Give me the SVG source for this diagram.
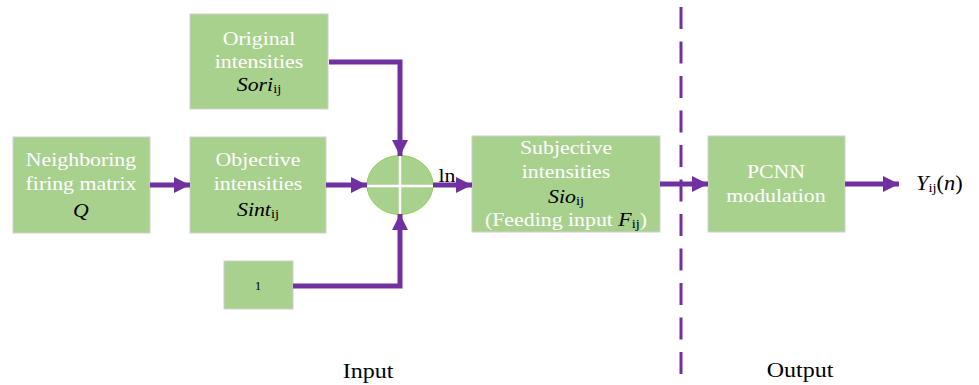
<svg xmlns="http://www.w3.org/2000/svg" width="979" height="385" viewBox="0 0 979 385">
<style>
.box{fill:#A9D18E;stroke:#D0D0D0;stroke-width:1}
text{font-family:"Liberation Serif","Times New Roman","DejaVu Serif",serif}
.t{font-size:19.5px;fill:#FFFFFF;text-anchor:middle}
.k{font-size:19.5px;fill:#000000;text-anchor:middle}
.i{font-style:italic}
.s{font-size:13px}
.c{fill:none;stroke:#7030A0;stroke-width:5;stroke-linejoin:miter}
</style>
<defs>
<marker id="ah" viewBox="0 0 10 10" refX="10" refY="5" markerWidth="3.3" markerHeight="3.2" orient="auto" markerUnits="strokeWidth">
<path d="M0,0 L10,5 L0,10 z" fill="#7030A0"/>
</marker>
</defs>
<rect width="979" height="385" fill="#FFFFFF"/>
<g id="divider">
<line x1="681" y1="7" x2="681" y2="376" stroke="#7030A0" stroke-width="3" stroke-dasharray="22 12.5"/>
</g>
<g id="original">
<rect class="box" x="190" y="14" width="138" height="95"/>
<text class="t" transform="translate(259,45) scale(1.12,1)">Original</text>
<text class="t" transform="translate(259,68) scale(1.12,1)">intensities</text>
<text class="k" transform="translate(259,91) scale(1.12,1)"><tspan class="i">Sori</tspan><tspan class="s" dy="2">ij</tspan></text>
</g>
<g id="neighboring">
<rect class="box" x="13" y="137" width="137" height="96"/>
<text class="t" transform="translate(81,166) scale(1.12,1)">Neighboring</text>
<text class="t" transform="translate(81,190) scale(1.12,1)">firing matrix</text>
<text class="k i" transform="translate(81,217) scale(1.12,1)">Q</text>
</g>
<g id="objective">
<rect class="box" x="190" y="137" width="136" height="96"/>
<text class="t" transform="translate(258,166) scale(1.12,1)">Objective</text>
<text class="t" transform="translate(258,190) scale(1.12,1)">intensities</text>
<text class="k" transform="translate(258,216) scale(1.12,1)"><tspan class="i">Sint</tspan><tspan class="s" dy="2">ij</tspan></text>
</g>
<g id="sum">
<ellipse cx="400" cy="185" rx="33" ry="29.5" fill="#A9D18E" stroke="#92D050" stroke-width="1"/>
<line x1="367" y1="186" x2="433" y2="186" stroke="#FFFFFF" stroke-width="2.5"/>
<line x1="400" y1="155.5" x2="400" y2="214.5" stroke="#FFFFFF" stroke-width="2.5"/>
</g>
<g id="one">
<rect class="box" x="224" y="261" width="69" height="48"/>
<text class="k" x="258" y="290" style="font-size:13px">1</text>
</g>
<g id="subjective">
<rect class="box" x="472" y="136" width="188" height="96"/>
<text class="t" transform="translate(566,154) scale(1.12,1)">Subjective</text>
<text class="t" transform="translate(566,178) scale(1.12,1)">intensities</text>
<text class="k" transform="translate(566,203) scale(1.12,1)"><tspan class="i">Sio</tspan><tspan class="s" dy="2">ij</tspan></text>
<text class="t" transform="translate(566,226) scale(1.12,1)">(Feeding input <tspan class="i" fill="#000000">F</tspan><tspan class="s" fill="#000000" dy="2">ij</tspan><tspan dy="-2">)</tspan></text>
</g>
<g id="pcnn">
<rect class="box" x="708" y="136" width="137" height="96"/>
<text class="t" transform="translate(776,178) scale(1.12,1)">PCNN</text>
<text class="t" transform="translate(776,202) scale(1.12,1)">modulation</text>
</g>
<g id="connectors">
<path class="c" d="M329,62 L400,62 L400,156" marker-end="url(#ah)"/>
<path class="c" d="M293,286 L400,286 L400,214" marker-end="url(#ah)"/>
<path class="c" d="M150,185 L190,185" marker-end="url(#ah)"/>
<path class="c" d="M326,185 L367,185" marker-end="url(#ah)"/>
<path class="c" d="M433,185 L472,185" marker-end="url(#ah)"/>
<path class="c" d="M660,184 L708,184" marker-end="url(#ah)"/>
<path class="c" d="M845,184 L899,184" marker-end="url(#ah)"/>
</g>
<g id="labels">
<text class="k" transform="translate(447,182) scale(1.12,1)">ln</text>
<text style="font-size:20px;fill:#000000" transform="translate(916,190) scale(1.12,1)"><tspan class="i">Y</tspan><tspan class="s" dy="2">ij</tspan><tspan dy="-2">(</tspan><tspan class="i">n</tspan><tspan>)</tspan></text>
<text class="k" transform="translate(368,378) scale(1.2,1)" style="font-size:20px">Input</text>
<text class="k" transform="translate(800,377) scale(1.2,1)" style="font-size:20px">Output</text>
</g>
</svg>
